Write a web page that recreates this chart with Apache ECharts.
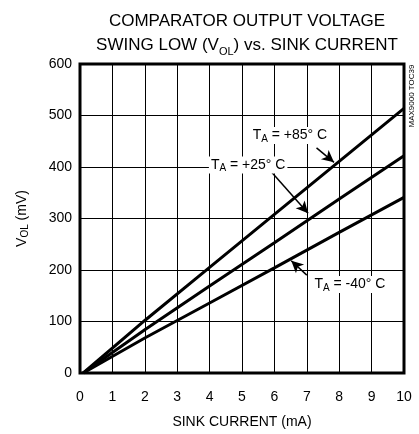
<!DOCTYPE html>
<html>
<head>
<meta charset="utf-8">
<script src="https://cdn.jsdelivr.net/npm/echarts@6/dist/echarts.min.js"></script>
<style>
  html, body { margin: 0; padding: 0; background: #fff; }
  #VolChart { width: 419px; height: 434px; }
</style>
</head>
<body>
<div id="VolChart"></div>
<script>
// sink current (mA) and V_OL (mV)
var current = [0.1, 2, 4, 6, 8, 10]
var v85 = [0, 102, 205, 308, 411, 514]
var v25 = [0, 84, 169, 253, 338, 422]
var vm40 = [0, 68, 136, 204, 273, 341]
var xTicks = [0, 1, 2, 3, 4, 5, 6, 7, 8, 9, 10]
var yTicks = [0, 100, 200, 300, 400, 500, 600]

var FONT = 'Liberation Sans'

function pairs(ys) {
  return current.map(function (x, i) { return [x, ys[i]] })
}

// label text with subscript A
var tempRich = {
  n: { fontSize: 14, fontFamily: FONT, color: '#000', lineHeight: 17 },
  s: { fontSize: 10, fontFamily: FONT, color: '#000', lineHeight: 17, verticalAlign: 'bottom', padding: [5, 0, 0, 0] }
}

function tempLabel(coord, txt) {
  return {
    coord: coord,
    label: {
      show: true,
      position: 'inside',
      backgroundColor: '#fff',
      padding: [0, 2],
      formatter: '{n|T}{s|A}{n| = ' + txt + '}',
      rich: tempRich
    }
  }
}

var arrowLine = {
  symbol: ['none', 'arrow'],
  symbolSize: [9, 12],
  silent: true,
  animation: false,
  label: { show: false },
  lineStyle: { color: '#000', width: 1.5, type: 'solid' }
}

var chart = echarts.init(document.getElementById('VolChart'))

chart.setOption({
  animation: false,
  title: {
    text: 'COMPARATOR OUTPUT VOLTAGE\nSWING LOW (V{sub|OL}) vs. SINK CURRENT',
    left: 242,
    top: 4,
    textAlign: 'center',
    textStyle: {
      fontFamily: FONT,
      fontSize: 17,
      fontWeight: 'normal',
      color: '#000',
      lineHeight: 24,
      rich: {
        sub: { fontFamily: FONT, fontSize: 11, color: '#000', verticalAlign: 'bottom', lineHeight: 24, padding: [6, 0, 0, 0] }
      }
    }
  },
  grid: {
    left: 80,
    right: 15,
    top: 64,
    bottom: 61,
    show: true,
    borderColor: '#000',
    borderWidth: 3,
    backgroundColor: 'transparent'
  },
  xAxis: {
    type: 'value',
    min: xTicks[0],
    max: xTicks[xTicks.length - 1],
    interval: 1,
    name: 'SINK CURRENT (mA)',
    nameLocation: 'middle',
    nameGap: 42,
    nameTextStyle: { fontFamily: FONT, fontSize: 14, color: '#000' },
    axisLine: { show: false },
    axisTick: { show: false },
    axisLabel: { fontFamily: FONT, fontSize: 14, color: '#000', margin: 17 },
    splitLine: { show: true, lineStyle: { color: '#000', width: 1 } }
  },
  yAxis: {
    type: 'value',
    min: yTicks[0],
    max: yTicks[yTicks.length - 1],
    interval: 100,
    name: 'V{sub|OL} (mV)',
    nameLocation: 'middle',
    nameRotate: 90,
    nameGap: 50,
    nameTextStyle: {
      fontFamily: FONT, fontSize: 14, color: '#000',
      rich: {
        sub: { fontFamily: FONT, fontSize: 10, color: '#000', verticalAlign: 'bottom', padding: [5, 0, 0, 0] }
      }
    },
    axisLine: { show: false },
    axisTick: { show: false },
    axisLabel: { fontFamily: FONT, fontSize: 14, color: '#000', margin: 8 },
    splitLine: { show: true, lineStyle: { color: '#000', width: 1 } }
  },
  series: [
    {
      type: 'line',
      name: '+85',
      data: pairs(v85),
      symbol: 'none',
      lineStyle: { color: '#000', width: 3 },
      markPoint: {
        symbol: 'rect', symbolSize: 0, silent: true,
        data: [tempLabel([6.48, 461], '+85\u00b0 C')]
      },
      markLine: Object.assign({ data: [[{ coord: [7.3, 437] }, { coord: [7.84, 409] }]] }, arrowLine)
    },
    {
      type: 'line',
      name: '+25',
      data: pairs(v25),
      symbol: 'none',
      lineStyle: { color: '#000', width: 3 },
      markPoint: {
        symbol: 'rect', symbolSize: 0, silent: true,
        data: [tempLabel([5.19, 404], '+25\u00b0 C')]
      },
      markLine: Object.assign({ data: [[{ coord: [5.93, 389] }, { coord: [7.04, 310] }]] }, arrowLine)
    },
    {
      type: 'line',
      name: '-40',
      data: pairs(vm40),
      symbol: 'none',
      lineStyle: { color: '#000', width: 3 },
      markPoint: {
        symbol: 'rect', symbolSize: 0, silent: true,
        data: [tempLabel([8.33, 172], '-40\u00b0 C')]
      },
      markLine: Object.assign({ data: [[{ coord: [7.0, 190] }, { coord: [6.52, 218] }]] }, arrowLine)
    }
  ],
  graphic: [
    {
      type: 'text',
      x: 412,
      y: 96,
      rotation: Math.PI / 2,
      style: {
        text: 'MAX9000 TOC39',
        fontFamily: FONT,
        fontSize: 8,
        fill: '#000',
        align: 'center',
        verticalAlign: 'middle'
      }
    }
  ]
})
</script>
</body>
</html>
